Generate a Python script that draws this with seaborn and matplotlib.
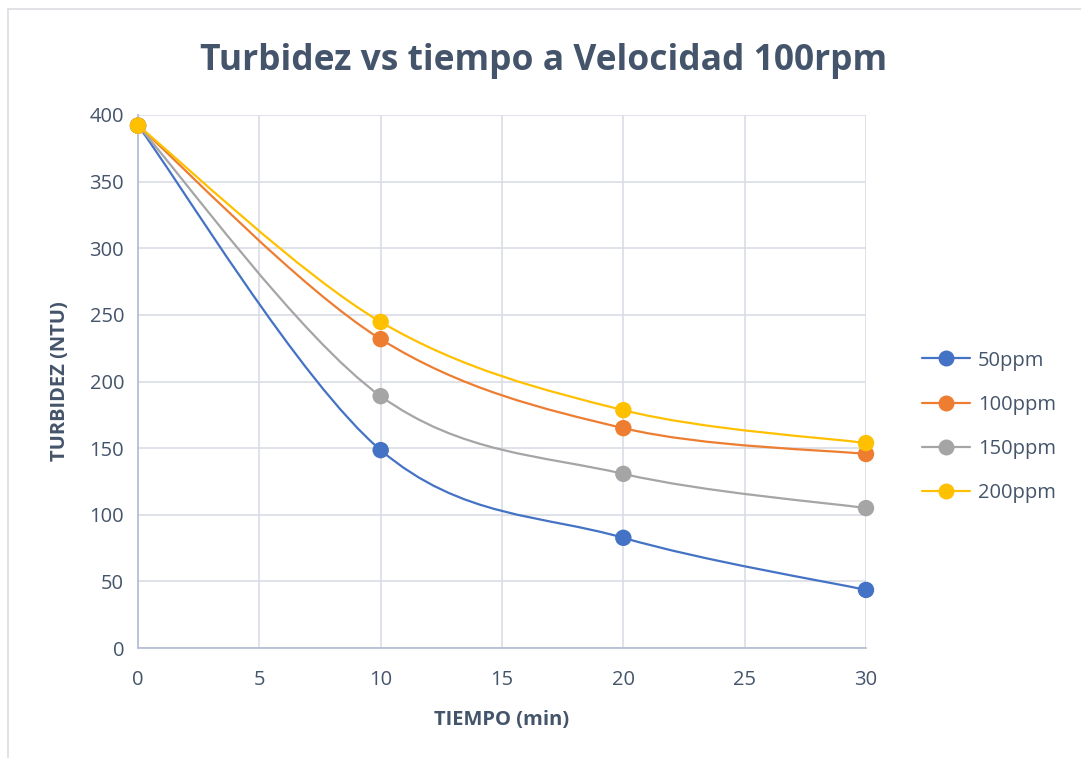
import matplotlib
matplotlib.use("Agg")
import matplotlib.pyplot as plt
from matplotlib.path import Path
from matplotlib.patches import PathPatch
from matplotlib.lines import Line2D
import seaborn as sns
import pandas as pd
import numpy as np

# Data
tiempo = [0, 10, 20, 30]
series_names = ["50ppm", "100ppm", "150ppm", "200ppm"]
turb_50 = [392, 148.5, 82.7, 43.6]
turb_100 = [392, 231.8, 165.0, 145.6]
turb_150 = [392, 189.0, 130.7, 105.0]
turb_200 = [392, 244.7, 178.5, 153.8]
x_ticks = [0, 5, 10, 15, 20, 25, 30]
y_ticks = [0, 50, 100, 150, 200, 250, 300, 350, 400]

colors = ["#4472C4", "#ED7D31", "#A5A5A5", "#FFC000"]
text_color = "#44546A"

sns.set_theme(style="white")
plt.rcParams["font.family"] = ["Open Sans", "DejaVu Sans"]

df = pd.DataFrame({
    "tiempo": tiempo * 4,
    "turbidez": turb_50 + turb_100 + turb_150 + turb_200,
    "serie": [n for n in series_names for _ in tiempo],
})

fig = plt.figure(figsize=(10.81, 7.58), dpi=100)
ax = fig.add_axes([0.1277, 0.1451, 0.6734, 0.7032])

ax.set_xlim(0, 30)
ax.set_ylim(0, 400)


def smooth_path(xs, ys):
    """Catmull-Rom style cubic Bezier through the points (spreadsheet 'smoothed line')."""
    pts = np.column_stack([xs, ys]).astype(float)
    n = len(pts)
    verts = [pts[0]]
    codes = [Path.MOVETO]
    for i in range(n - 1):
        p_prev = pts[i - 1] if i > 0 else pts[i]
        p0 = pts[i]
        p1 = pts[i + 1]
        p_next = pts[i + 2] if i + 2 < n else pts[i + 1]
        c1 = p0 + (p1 - p_prev) / 6.0
        c2 = p1 - (p_next - p0) / 6.0
        verts += [c1, c2, p1]
        codes += [Path.CURVE4] * 3
    return Path(verts, codes)


all_series = [turb_50, turb_100, turb_150, turb_200]
for vals, col in zip(all_series, colors):
    ax.add_patch(PathPatch(smooth_path(tiempo, vals), facecolor="none",
                           edgecolor=col, lw=1.6, zorder=3))

sns.scatterplot(data=df, x="tiempo", y="turbidez", hue="serie",
                palette=colors, s=140, edgecolor="none", ax=ax,
                legend=False, zorder=4, clip_on=False)

ax.set_xticks(x_ticks)
ax.set_yticks(y_ticks)
ax.grid(True, color="#D9DDE4", lw=1.2)
ax.set_axisbelow(True)
for side in ["top", "right"]:
    ax.spines[side].set_visible(False)
for side in ["left", "bottom"]:
    ax.spines[side].set_color("#B4C0D6")
    ax.spines[side].set_linewidth(1.3)

ax.tick_params(axis="both", length=0, labelsize=14.5, colors=text_color)
ax.tick_params(axis="x", pad=16)
ax.tick_params(axis="y", pad=10)

ax.set_xlabel("TIEMPO (min)", fontsize=14.5, fontweight="bold",
              color=text_color, labelpad=14)
ax.set_ylabel("TURBIDEZ (NTU)", fontsize=14.5, fontweight="bold",
              color=text_color, labelpad=14)

fig.text(0.503, 0.92, "Turbidez vs tiempo a Velocidad 100rpm",
         ha="center", va="center", fontsize=25.5, fontweight="bold",
         color=text_color)

handles = [Line2D([0], [0], color=c, lw=1.6, marker="o", markersize=11.5,
                  markeredgewidth=0) for c in colors]
leg = fig.legend(handles, series_names, loc="center left",
                 bbox_to_anchor=(0.836, 0.437), frameon=False,
                 fontsize=14.5, handlelength=2.4, labelspacing=1.2,
                 handletextpad=0.4)
for t in leg.get_texts():
    t.set_color(text_color)

# outer chart frame
fig.add_artist(Line2D([0.0074, 0.0074], [0.0, 0.988], transform=fig.transFigure,
                      color="#DADDE2", lw=1.2))
fig.add_artist(Line2D([0.0074, 1.0], [0.988, 0.988], transform=fig.transFigure,
                      color="#DADDE2", lw=1.2))

fig.savefig("out.png", dpi=100)
